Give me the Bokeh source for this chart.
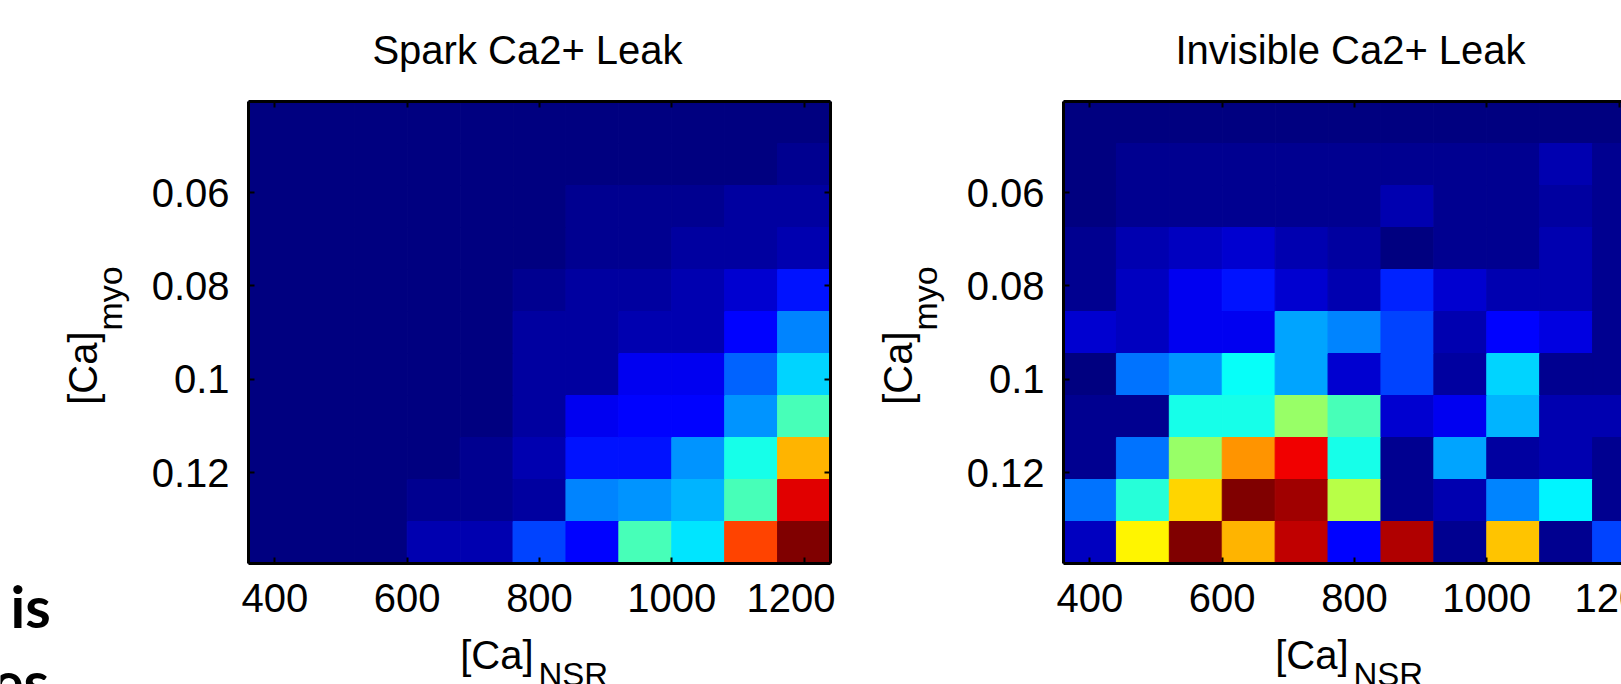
import math
from bokeh.plotting import figure
from bokeh.models import Range1d, FixedTicker, LinearAxis, Label, ColumnDataSource
from bokeh.transform import linear_cmap
from bokeh.layouts import row
from bokeh.embed import file_html
from bokeh.resources import INLINE

# ---------------- data ----------------
ca_nsr = [400, 480, 560, 640, 720, 800, 880, 960, 1040, 1120, 1200]
ca_myo = [0.045, 0.054, 0.063, 0.072, 0.081, 0.090, 0.099, 0.108, 0.117, 0.126, 0.135]

# normalised leak (0..1); rows follow ca_myo (top to bottom), columns follow ca_nsr
spark_leak = [
    [0.015, 0.010, 0.010, 0.010, 0.010, 0.010, 0.010, 0.010, 0.010, 0.010, 0.012],
    [0.012, 0.010, 0.010, 0.010, 0.010, 0.010, 0.010, 0.012, 0.015, 0.015, 0.020],
    [0.010, 0.010, 0.010, 0.010, 0.010, 0.012, 0.020, 0.025, 0.030, 0.035, 0.045],
    [0.010, 0.010, 0.010, 0.010, 0.010, 0.015, 0.020, 0.030, 0.035, 0.040, 0.050],
    [0.010, 0.010, 0.010, 0.010, 0.012, 0.020, 0.040, 0.045, 0.050, 0.080, 0.145],
    [0.010, 0.010, 0.010, 0.010, 0.015, 0.035, 0.045, 0.060, 0.060, 0.125, 0.250],
    [0.010, 0.010, 0.010, 0.010, 0.015, 0.040, 0.045, 0.120, 0.120, 0.230, 0.340],
    [0.010, 0.010, 0.010, 0.010, 0.015, 0.040, 0.115, 0.130, 0.140, 0.270, 0.440],
    [0.010, 0.010, 0.010, 0.012, 0.025, 0.060, 0.150, 0.150, 0.275, 0.400, 0.700],
    [0.010, 0.010, 0.010, 0.025, 0.025, 0.040, 0.250, 0.270, 0.300, 0.440, 0.900],
    [0.012, 0.012, 0.015, 0.050, 0.050, 0.190, 0.130, 0.440, 0.355, 0.800, 0.985],
]

invisible_leak = [
    [0.015, 0.015, 0.015, 0.015, 0.015, 0.015, 0.015, 0.015, 0.015, 0.015, 0.015],
    [0.015, 0.020, 0.020, 0.020, 0.020, 0.020, 0.020, 0.020, 0.020, 0.050, 0.020],
    [0.015, 0.030, 0.030, 0.030, 0.030, 0.030, 0.050, 0.025, 0.025, 0.035, 0.020],
    [0.020, 0.060, 0.075, 0.090, 0.050, 0.040, 0.015, 0.020, 0.030, 0.050, 0.030],
    [0.030, 0.070, 0.120, 0.150, 0.080, 0.050, 0.160, 0.090, 0.050, 0.060, 0.020],
    [0.080, 0.070, 0.115, 0.115, 0.290, 0.250, 0.190, 0.050, 0.135, 0.100, 0.030],
    [0.015, 0.235, 0.270, 0.375, 0.290, 0.090, 0.200, 0.040, 0.330, 0.030, 0.030],
    [0.020, 0.030, 0.400, 0.400, 0.530, 0.440, 0.080, 0.120, 0.305, 0.060, 0.060],
    [0.030, 0.235, 0.520, 0.730, 0.885, 0.400, 0.030, 0.290, 0.040, 0.050, 0.020],
    [0.235, 0.420, 0.670, 0.985, 0.960, 0.550, 0.030, 0.060, 0.255, 0.360, 0.020],
    [0.070, 0.640, 0.985, 0.700, 0.925, 0.135, 0.940, 0.030, 0.680, 0.020, 0.195],
]

x_ticks = [400, 600, 800, 1000, 1200]
y_ticks = [0.06, 0.08, 0.1, 0.12]
y_tick_labels = ["0.06", "0.08", "0.1", "0.12"]

titles = ["Spark Ca2+ Leak", "Invisible Ca2+ Leak"]
x_label_main, x_label_sub = "[Ca]", "NSR"
y_label_main, y_label_sub = "[Ca]", "myo"
side_texts = ["is", "es"]

# ---------------- layout / style ----------------
FONT = "Liberation Sans"
CELL_W = 80
CELL_H = 0.009
H = 684
CANVAS_W = [835, 786]          # two canvases side by side
HEAT_LEFT = [248, 228]         # heat-map left edge inside each canvas (px)
HEAT_TOP, HEAT_BOTTOM = 101, 563
HEAT_W = 582
SHIFT = 0.4                    # baseline correction (fraction of font size)

X0 = ca_nsr[0] - CELL_W / 2
X1 = ca_nsr[-1] + CELL_W / 2
Y0 = ca_myo[0] - CELL_H / 2
Y1 = ca_myo[-1] + CELL_H / 2
PX_PER_X = HEAT_W / (X1 - X0)
PX_PER_Y = (HEAT_BOTTOM - HEAT_TOP) / (Y1 - Y0)


def jet(n=64):
    cols = []
    for i in range(n):
        v = i / (n - 1)
        r = min(max(1.5 - abs(4 * v - 3), 0), 1)
        g = min(max(1.5 - abs(4 * v - 2), 0), 1)
        b = min(max(1.5 - abs(4 * v - 1), 0), 1)
        cols.append("#%02x%02x%02x" % (round(r * 255), round(g * 255), round(b * 255)))
    return cols


PALETTE = jet(64)


def make_panel(matrix, title, idx):
    w = CANVAS_W[idx]
    left = HEAT_LEFT[idx]
    xs, ys, vs = [], [], []
    for i, yv in enumerate(ca_myo):
        for j, xv in enumerate(ca_nsr):
            xs.append(xv)
            ys.append(yv)
            vs.append(matrix[i][j])
    src = ColumnDataSource(dict(x=xs, y=ys, v=vs))

    xr = Range1d(X0 - left / PX_PER_X, X0 + (w - left) / PX_PER_X)
    yr = Range1d(Y0 + (H - HEAT_TOP) / PX_PER_Y, Y0 - HEAT_TOP / PX_PER_Y)

    p = figure(width=w, height=H, x_range=xr, y_range=yr,
               toolbar_location=None, output_backend="svg",
               x_axis_location=None, y_axis_location=None,
               min_border=0, min_border_left=0, min_border_right=0,
               min_border_top=0, min_border_bottom=0)
    if p.title is not None:
        p.title.visible = False
    p.background_fill_color = "white"
    p.border_fill_color = "white"
    p.outline_line_color = None
    p.grid.visible = False

    cmap = linear_cmap("v", PALETTE, 0, 1)
    p.rect(x="x", y="y", width=CELL_W, height=CELL_H, source=src,
           fill_color=cmap, line_color=cmap, line_width=1)

    def axis(side, ticks, loc, bounds, labels):
        ax = LinearAxis(ticker=FixedTicker(ticks=ticks), fixed_location=loc, bounds=bounds)
        ax.axis_line_width = 3
        ax.axis_line_color = "black"
        ax.major_tick_in = 6
        ax.major_tick_out = 0
        ax.major_tick_line_width = 2
        ax.major_tick_line_color = "black"
        ax.minor_tick_line_color = None
        if labels:
            ax.major_label_text_font = FONT
            ax.major_label_text_font_size = "40px"
            ax.major_label_text_color = "black"
        else:
            ax.major_label_text_color = None
        p.add_layout(ax, side)
        return ax

    # the right panel is cut by the page edge: its last tick label is drawn by hand below
    bottom_ticks = x_ticks if idx == 0 else [t for t in x_ticks if t < X0 + (w - left) / PX_PER_X - 40]
    xa = axis("below", bottom_ticks, Y1, (X0, X1), True)
    xa.major_label_standoff = 20
    ya = axis("left", y_ticks, X0, (Y0, Y1), True)
    ya.major_label_standoff = 19
    ya.major_label_overrides = {t: s for t, s in zip(y_ticks, y_tick_labels)}
    axis("above", x_ticks, Y0, (X0, X1), False)
    axis("right", y_ticks, X1, (Y0, Y1), False)

    def lab(px, py, text, size, align, angle=0.0, font=FONT, style="normal", x_units="screen"):
        # px, py: baseline anchor inside this canvas, measured from its top-left corner
        fs = float(size[:-2])
        if angle == 0.0:
            py = py - SHIFT * fs
        else:
            px = px - SHIFT * fs
        p.add_layout(Label(x=px, y=H - py, x_units=x_units, y_units="screen", text=text,
                           angle=angle, text_font=font, text_font_size=size,
                           text_font_style=style, text_align=align,
                           text_baseline="alphabetic", text_color="black"))

    lab(left + 279 + (8 if idx else 0), 65, title, "40px", "center")
    lab(left + 285, 670, x_label_main, "40px", "right")
    lab(left + 290, 687, x_label_sub, "33px", "left")
    lab(left - 150, 331, y_label_main, "40px", "right", math.pi / 2)
    lab(left - 125, 330, y_label_sub, "34px", "left", math.pi / 2)
    if idx == 0:
        lab(10, 628, side_texts[0], "58px", "left", font="Lato", style="bold")
        lab(-8, 703, side_texts[1], "58px", "left", font="Lato", style="bold")
    else:
        for t in x_ticks:
            if t not in bottom_ticks:
                lab(t, 613, str(t), "40px", "center", x_units="data")
    return p


p1 = make_panel(spark_leak, titles[0], 0)
p2 = make_panel(invisible_leak, titles[1], 1)

layout = row(p1, p2)
open("out.html", "w").write(file_html(layout, INLINE))
